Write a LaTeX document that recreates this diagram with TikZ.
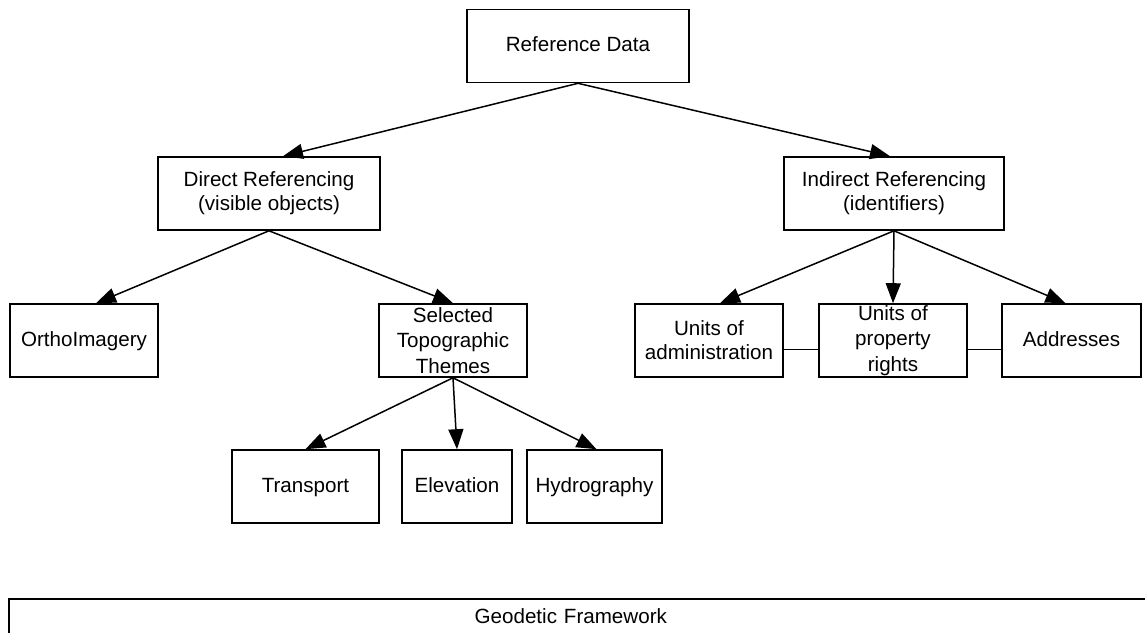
\documentclass[tikz,border=0pt]{standalone}
\usepackage{fontspec}
\setmainfont{Liberation Sans}
\usepackage{tikz}
\usetikzlibrary{arrows.meta, positioning}

\begin{document}
\begin{tikzpicture}[x=0.5pt, y=-0.5pt,
    box/.style={shape=rectangle, draw=black, line width=0.8pt, align=center, inner sep=1pt,
                font=\fontsize{10.3}{12}\selectfont},
    widebox/.style={box, minimum width=111pt, minimum height=36.5pt},
    smallbox/.style={box, minimum width=74pt, minimum height=36.5pt},
    oneline/.style={text height=7.5pt, text depth=2pt},
    threelines/.style={font=\fontsize{10.3}{12.7}\selectfont, inner ysep=0pt},
    link/.style={line width=0.75pt, -{Triangle[length=10pt, width=7.5pt]}}]
    \useasboundingbox (0,0) rectangle (1145,632);

    % top levels
    \node[widebox, oneline] (refdata) at ( 578,  46) {Reference Data};
    \node[widebox] (direct)   at ( 269, 193.5) {Direct Referencing\\(visible objects)};
    \node[widebox, minimum width=110pt] (indirect) at ( 894, 193.5) {Indirect Referencing\\(identifiers)};

    % third row
    \node[smallbox, oneline] (ortho) at (  84, 340.5) {OrthoImagery};
    \node[smallbox, threelines] (topo) at ( 453, 340.5) {Selected\\Topographic\\Themes};
    \node[smallbox] (admin) at ( 709, 340.5) {Units of\\administration};
    \node[smallbox, threelines] (property) at ( 893, 340.5) {Units of\\property\\rights};
    \node[smallbox, oneline, minimum width=69.5pt] (address) at (1071.5, 340.5) {Addresses};

    % themes
    \node[smallbox, oneline, minimum width=73.5pt] (transport) at ( 305.5, 486.5) {Transport};
    \node[smallbox, oneline, minimum width=55pt]   (elevation) at ( 457,   486.5) {Elevation};
    \node[smallbox, oneline, minimum width=67.5pt] (hydro)     at ( 594.5, 486.5) {Hydrography};

    % base layer
    \node[box, anchor=north west, inner xsep=0pt, inner ysep=4pt,
          text width=580pt, text height=8.5pt, text depth=20pt] (geodetic) at (8, 598) {\hspace*{-18pt}Geodetic Framework};

    \path[link] (refdata.south) edge ([xshift=7pt]direct.north);
    \path[link] (refdata.south) edge ([xshift=-2pt]indirect.north);

    \path[link] (direct.south) edge ([xshift=6pt]ortho.north);
    \path[link] (direct.south) edge (topo.north);

    \path[link] (indirect.south) edge ([xshift=5.5pt]admin.north);
    \path[link] (indirect.south) edge (property.north);
    \path[link] (indirect.south) edge ([xshift=-3pt]address.north);

    \path[link] (topo.south) edge (transport.north);
    \path[link] (topo.south) edge (elevation.north);
    \path[link] (topo.south) edge ([xshift=1pt]hydro.north);

    \path[line width=0.75pt] ([yshift=-4.5pt]admin.east) edge ([yshift=-4.5pt]property.west);
    \path[line width=0.75pt] ([yshift=-4.5pt]property.east) edge ([yshift=-4.5pt]address.west);
\end{tikzpicture}
\end{document}
